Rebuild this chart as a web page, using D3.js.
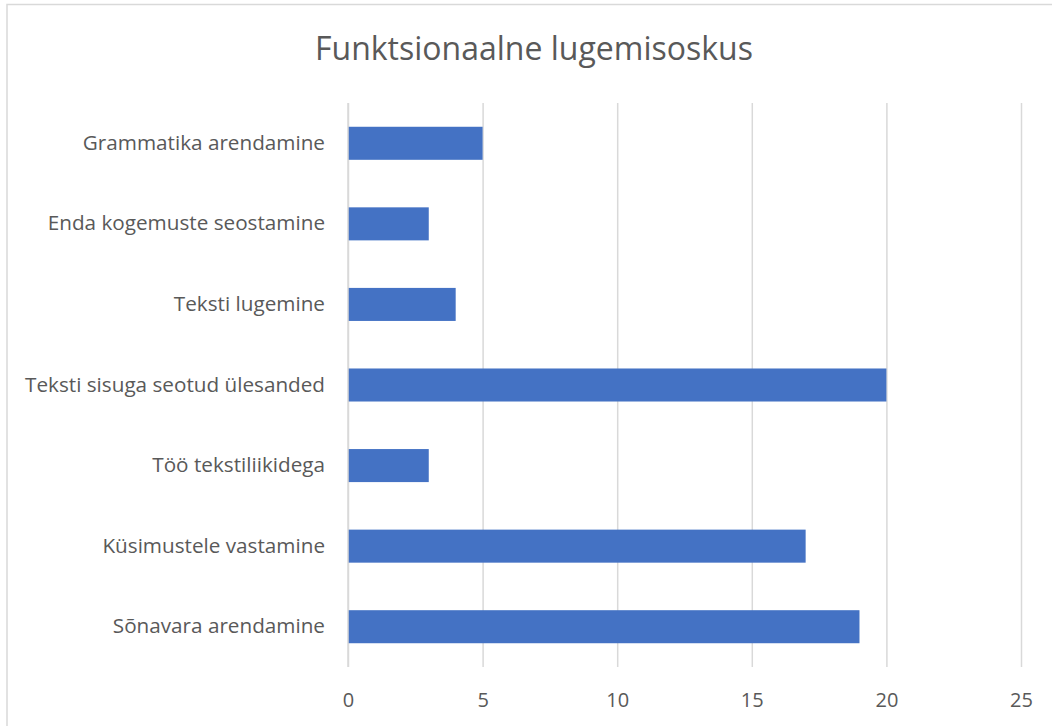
<!DOCTYPE html>
<html>
<head>
<meta charset="utf-8">
<script src="https://cdn.jsdelivr.net/npm/d3@7"></script>
<style>
  body { margin: 0; background: #fff; }
  svg text { font-family: "Open Sans", "Noto Sans", sans-serif; fill: #595959; }
</style>
</head>
<body>
<svg width="1052" height="726"></svg>
<script>
var categories = ["Grammatika arendamine", "Enda kogemuste seostamine", "Teksti lugemine",
    "Teksti sisuga seotud ülesanded", "Töö tekstiliikidega", "Küsimustele vastamine",
    "Sõnavara arendamine"];
var values = [5, 3, 4, 20, 3, 17, 19];
var xTicks = [0, 5, 10, 15, 20, 25];
var title = "Funktsionaalne lugemisoskus";

var svg = d3.select("svg");

// chart border (runs off the right and bottom of the picture)
svg.append("rect")
    .attr("x", 7).attr("y", 4.5)
    .attr("width", 1060).attr("height", 740)
    .attr("fill", "none")
    .attr("stroke", "#d9d9d9")
    .attr("stroke-width", 1.5);

var x = d3.scaleLinear().domain([0, 25]).range([348, 1021]);
var y = d3.scaleBand().domain(categories).range([103, 667])
    .paddingInner(0.59).paddingOuter(0.295);

// gridlines
var xAxis = d3.axisBottom(x).tickValues(xTicks).tickSize(-(667 - 103)).tickPadding(26);
var gx = svg.append("g")
    .attr("transform", "translate(0,667)")
    .call(xAxis);
gx.select(".domain").remove();
gx.selectAll(".tick line").attr("stroke", "#d9d9d9").attr("stroke-width", 1.5);
gx.selectAll(".tick text").attr("font-size", 20).attr("fill", "#595959")
    .style("font-family", "'Open Sans', 'Noto Sans', sans-serif");

// category labels
var yAxis = d3.axisLeft(y).tickSize(0).tickPadding(23);
var gy = svg.append("g")
    .attr("transform", "translate(348,0)")
    .call(yAxis);
gy.select(".domain").remove();
gy.selectAll(".tick text").attr("font-size", 20.7).attr("fill", "#595959")
    .style("font-family", "'Open Sans', 'Noto Sans', sans-serif");

// bars
svg.append("g").selectAll("rect")
    .data(categories)
  .enter().append("rect")
    .attr("x", x(0))
    .attr("y", function(d) { return y(d); })
    .attr("width", function(d, i) { return x(values[i]) - x(0); })
    .attr("height", y.bandwidth())
    .attr("fill", "#4472c4");

// axis line at zero, drawn over bars like in the original
svg.append("line")
    .attr("x1", x(0)).attr("x2", x(0))
    .attr("y1", 103).attr("y2", 667)
    .attr("stroke", "#d9d9d9").attr("stroke-width", 1.5);

svg.append("text")
    .attr("x", 534).attr("y", 60)
    .attr("text-anchor", "middle")
    .attr("font-size", 32)
    .text(title);
</script>
</body>
</html>
